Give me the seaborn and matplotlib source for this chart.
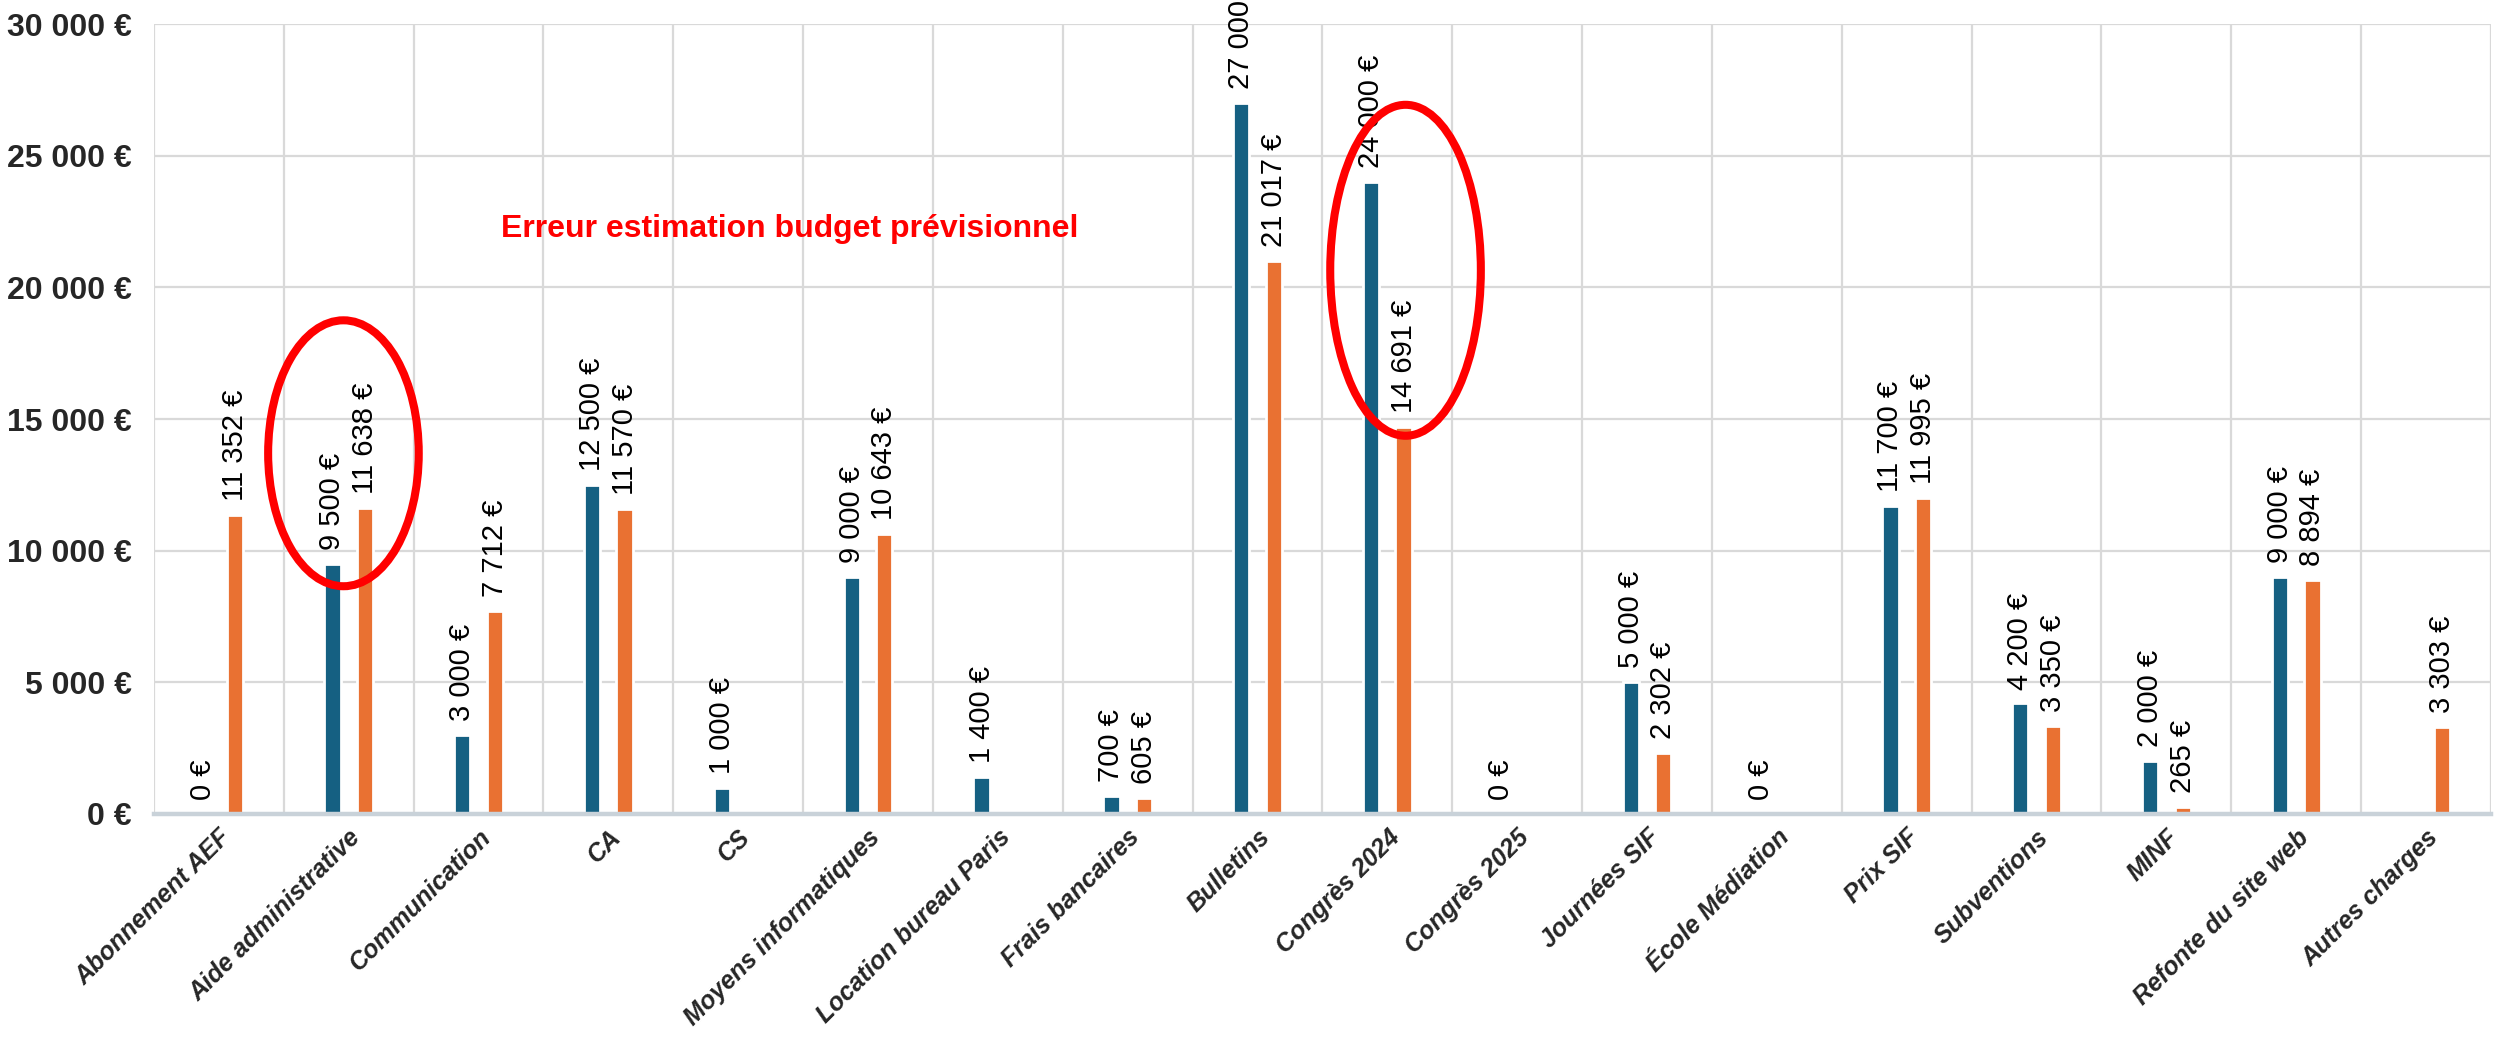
import matplotlib
matplotlib.use('Agg')
import matplotlib.pyplot as plt
from matplotlib.patches import Ellipse
import numpy as np
import pandas as pd
import seaborn as sns

# Data
categories = ['Abonnement AEF', 'Aide administrative', 'Communication', 'CA', 'CS',
              'Moyens informatiques', 'Location bureau Paris', 'Frais bancaires',
              'Bulletins', 'Congrès 2024', 'Congrès 2025', 'Journées SIF',
              'École Médiation', 'Prix SIF', 'Subventions', 'MINF',
              'Refonte du site web', 'Autres charges']
budget = [0, 9500, 3000, 12500, 1000, 9000, 1400, 700, 27000, 24000, 0, 5000,
          0, 11700, 4200, 2000, 9000, np.nan]
realise = [11352, 11638, 7712, 11570, np.nan, 10643, np.nan, 605, 21017, 14691,
           np.nan, 2302, np.nan, 11995, 3350, 265, 8894, 3303]
series = ['Budget prévisionnel', 'Réalisé']
colors = ['#156082', '#E97132']
y_ticks = [0, 5000, 10000, 15000, 20000, 25000, 30000]
note = 'Erreur estimation budget prévisionnel'

df = pd.DataFrame({
    'Poste': categories * 2,
    'Série': [series[0]] * len(categories) + [series[1]] * len(categories),
    'Montant': budget + realise,
})


def euro(v):
    return f"{v:,.0f}".replace(',', ' ') + ' €'


sns.set_theme(style='white')
plt.rcParams['font.family'] = ['Liberation Sans', 'DejaVu Sans']

fig, ax = plt.subplots(figsize=(12.47, 5.24), dpi=200)
fig.subplots_adjust(left=0.0617, right=0.9988, top=0.977, bottom=0.2233)

sns.barplot(data=df, x='Poste', y='Montant', hue='Série', order=categories,
            hue_order=series, palette=colors, width=0.5, gap=0.5, saturation=1,
            errorbar=None, legend=False, ax=ax)

# value labels above each bar
for cont in ax.containers:
    for bar in cont:
        h = bar.get_height()
        if np.isnan(h):
            continue
        x = bar.get_x() + bar.get_width() / 2
        ax.annotate(euro(h), (x, h), xytext=(0, 5), textcoords='offset points',
                    rotation=90, ha='center', va='bottom', fontsize=10.5,
                    color='black', annotation_clip=False)

ax.set_xlim(-0.5, len(categories) - 0.5)
ax.set_ylim(0, 30000)
ax.set_yticks(y_ticks)
ax.set_yticklabels([euro(v) for v in y_ticks], fontsize=11.5, fontweight='bold')
ax.set_xticks(np.arange(-0.5, len(categories), 1), minor=True)
ax.grid(which='minor', axis='x', color='#D9D9D9', linewidth=0.8)
ax.grid(which='major', axis='y', color='#D9D9D9', linewidth=0.8)
ax.set_axisbelow(True)
ax.tick_params(axis='x', which='both', length=0, pad=4)
ax.tick_params(axis='y', length=0, pad=8)
for lbl in ax.get_xticklabels():
    lbl.set_rotation(45)
    lbl.set_ha('right')
    lbl.set_rotation_mode('anchor')
    lbl.set_fontsize(9)
    lbl.set_fontweight('bold')
    lbl.set_fontstyle('italic')
ax.set_xlabel('')
ax.set_ylabel('')
for s in ['left', 'right', 'top']:
    ax.spines[s].set_visible(False)
ax.spines['bottom'].set_color('#C9D2D9')
ax.spines['bottom'].set_linewidth(1.6)

# red annotations
ax.add_patch(Ellipse((0.96, 13700), 1.16, 10100, fill=False, ec='#FF0000',
                     lw=2.9, clip_on=False, zorder=5))
ax.add_patch(Ellipse((9.14, 20650), 1.16, 12570, fill=False, ec='#FF0000',
                     lw=2.9, clip_on=False, zorder=5))
ax.text(4.4, 22200, note, color='#FF0000', fontsize=11.5, fontweight='bold',
        ha='center', va='center')

fig.savefig('out.png', dpi=200)
